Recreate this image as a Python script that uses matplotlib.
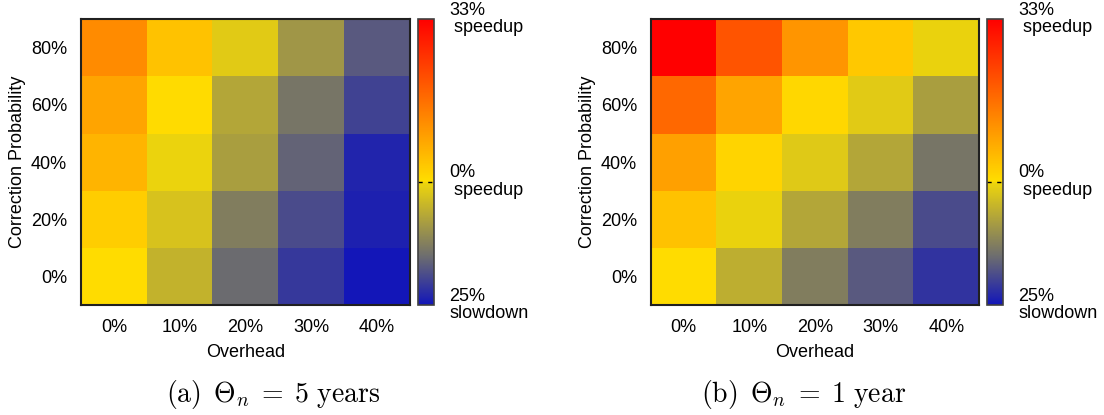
import numpy as np
import matplotlib
matplotlib.use("Agg")
import matplotlib.pyplot as plt
from matplotlib.colors import LinearSegmentedColormap, Normalize

plt.rcParams["font.family"] = ["Liberation Sans", "DejaVu Sans"]
plt.rcParams["mathtext.fontset"] = "cm"

overhead_labels = ["0%", "10%", "20%", "30%", "40%"]
prob_labels = ["0%", "20%", "40%", "60%", "80%"]

# speedup in percent; rows follow prob_labels (0% .. 80%), columns overhead_labels
speedup_5y = [
    [0.2, -5.2, -15.2, -21.0, -24.8],
    [2.5, -2.9, -12.7, -18.8, -23.7],
    [6.2, -0.5, -8.1, -16.1, -23.2],
    [8.5, 0.3, -6.9, -13.8, -19.9],
    [12.2, 4.0, -1.7, -9.2, -17.2],
]
speedup_1y = [
    [0.2, -5.8, -12.7, -17.2, -21.5],
    [4.0, -0.6, -6.9, -12.7, -18.8],
    [9.2, 1.5, -1.9, -6.9, -13.8],
    [17.4, 8.5, 1.0, -1.7, -8.1],
    [33.0, 20.4, 10.7, 3.3, -0.6],
]

vmin, vmax = -25, 33
cb_ticks = [-25, 0, 33]
cb_labels = ["25%\nslowdown", "0%\n speedup", "33%\n speedup"]


def node(v):
    return (v - vmin) / (vmax - vmin)


cmap = LinearSegmentedColormap.from_list(
    "speed",
    [
        (node(-25), (18 / 255, 22 / 255, 185 / 255)),
        (node(-15), (110 / 255, 110 / 255, 110 / 255)),
        (node(-0.01), (240 / 255, 215 / 255, 10 / 255)),
        (node(0), (1.0, 222 / 255, 0.0)),
        (node(33), (1.0, 0.0, 0.0)),
    ],
    N=512,
)
norm = Normalize(vmin=vmin, vmax=vmax)

W, H = 1104, 415
fig = plt.figure(figsize=(W / 100, H / 100), dpi=100)


def box(x0, y0, x1, y1):
    return [x0 / W, 1 - y1 / H, (x1 - x0) / W, (y1 - y0) / H]


panels = [
    dict(data=speedup_5y, ax=(81, 19, 410, 305), cax=(418, 19, 434, 305),
         ylab_x=18, cap_x=273,
         caption=r"$\mathrm{(a)}\ \,\Theta_n\;=\;5\ \mathrm{years}$"),
    dict(data=speedup_1y, ax=(651, 19, 979, 305), cax=(987, 19, 1003, 305),
         ylab_x=588, cap_x=804,
         caption=r"$\mathrm{(b)}\ \,\Theta_n\;=\;1\ \mathrm{year}$"),
]

fs = 13
for p in panels:
    ax = fig.add_axes(box(*p["ax"]))
    data = np.array(p["data"])
    im = ax.imshow(data, cmap=cmap, norm=norm, origin="lower", aspect="auto",
                   interpolation="nearest")
    ax.set_xticks(range(len(overhead_labels)), overhead_labels, fontsize=fs)
    ax.set_yticks(range(len(prob_labels)), prob_labels, fontsize=fs)
    ax.tick_params(length=0, pad=10)
    for s in ax.spines.values():
        s.set_linewidth(1.5)
        s.set_color("#202020")
    ax.set_xlabel("Overhead", fontsize=fs, labelpad=6)
    x0, y0, x1, y1 = p["ax"]
    fig.text(p["ylab_x"] / W, 1 - (y0 + y1) / 2 / H, "Correction Probability",
             rotation=90, ha="center", va="center", fontsize=fs)
    fig.text(p["cap_x"] / W, 1 - 394 / H, p["caption"], ha="center", va="center",
             fontsize=20)

    cax = fig.add_axes(box(*p["cax"]))
    cb = fig.colorbar(im, cax=cax, ticks=cb_ticks)
    cb.outline.set_linewidth(1.2)
    cb.outline.set_edgecolor("#404040")
    cax.set_yticklabels(cb_labels, fontsize=fs)
    cax.tick_params(length=0, pad=11)
    for t in cax.get_yticklabels():
        t.set_linespacing(1.05)
        t.set_verticalalignment("center")
    cax.axhline(0, color="black", lw=1.0, ls=(0, (3, 4)))

fig.savefig("out.png", dpi=100)
